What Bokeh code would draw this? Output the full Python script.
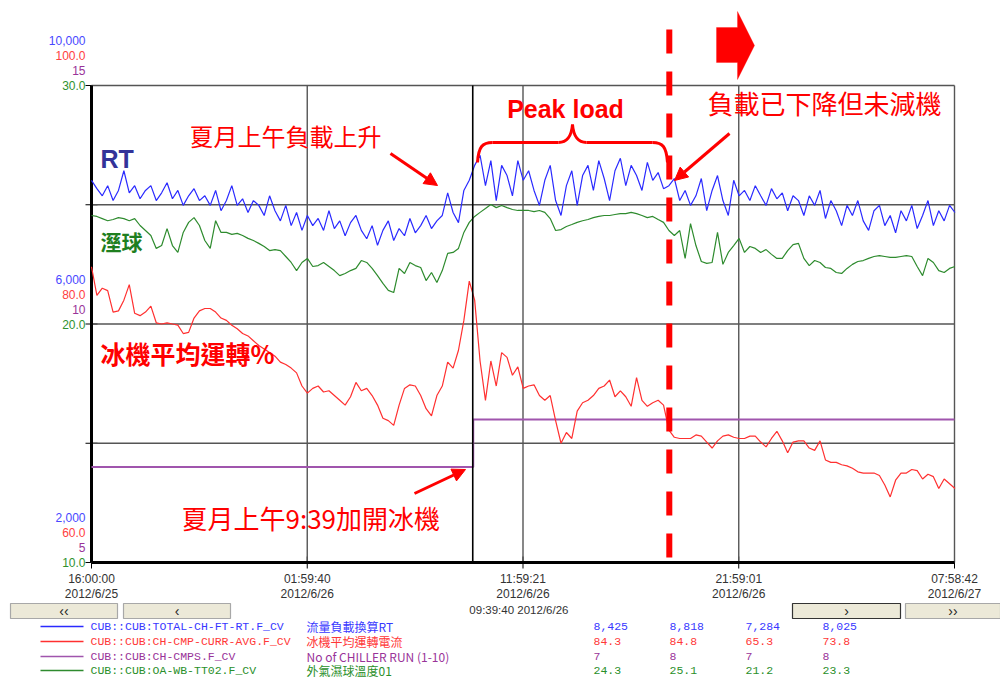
import math
import pandas as pd
from bokeh.plotting import figure
from bokeh.models import Range1d, Label, Arrow, NormalHead, PolyAnnotation
from bokeh.layouts import column
from bokeh.embed import file_html
from bokeh.resources import INLINE
from bokeh.core.properties import value

# ---------------- data ----------------
start_time = "2012-06-25 16:00:00"
end_time = "2012-06-27 07:58:42"
sample_freq = "15min"

# TOTAL-CH-FT-RT (RT)
rt = [8410, 8270, 8150, 8320, 8070, 8240, 8570, 8200, 8320, 8100, 8240,
      8320, 8070, 8200, 8370, 8100, 8240, 7990, 8150, 8270, 8070,
      8150, 7990, 8240, 7900, 8070, 8320, 7990, 8100, 7870, 8070,
      7990, 7820, 8150, 7900, 7730, 7990, 7650, 7870, 7570, 7820,
      7650, 7770, 7570, 7900, 7600, 7730, 7480, 7700, 7820, 7570,
      7430, 7650, 7320, 7570, 7730, 7400, 7600, 7480, 7770, 7530,
      7650, 7820, 7600, 7730, 7820, 8200, 7870, 7700, 8240, 8410,
      8660, 8830, 8320, 8740, 8070, 8660, 8490, 8150, 8740, 8410,
      8570, 8240, 7990, 8410, 8660, 8070, 7820, 8320, 8570, 7990,
      8490, 8660, 8240, 8740, 8440, 8070, 8570, 8780, 8320, 8660,
      8490, 8240, 8710, 8410, 8540, 8270, 8320, 8440, 8070, 8240,
      7990, 8150, 8440, 7900, 8240, 8490, 8070, 7820, 8410, 8150,
      8240, 8070, 8320, 8150, 7990, 8270, 8100, 8200, 7900, 8150,
      8070, 7820, 8150, 7990, 8240, 7770, 8070, 7900, 7650, 7990,
      7820, 8070, 7730, 7570, 7900, 7990, 7650, 7820, 7530, 7900,
      7730, 7990, 7600, 7820, 8070, 7650, 7900, 7730, 7990, 7870]

# CH-CMP-CURR-AVG (%)
amp = [84.8, 82.4, 83.0, 82.8, 81.0, 81.1, 82.0, 83.3, 80.9, 80.7, 81.0,
       81.5, 80.1, 80.0, 80.1, 80.0, 79.9, 79.2, 79.3, 80.5, 81.1,
       81.3, 81.3, 81.0, 80.5, 80.3, 79.9, 79.6, 79.2, 79.0, 78.6,
       78.2, 77.9, 77.6, 77.3, 76.8, 76.6, 76.3, 75.9, 74.8, 74.2,
       74.6, 74.8, 74.3, 74.4, 74.0, 73.6, 73.2, 73.9, 75.1, 74.4,
       74.6, 74.0, 73.2, 72.1, 71.9, 71.5, 73.2, 74.6, 74.9, 74.8,
       74.0, 72.9, 72.3, 74.0, 74.8, 76.8, 76.3, 77.8, 80.3, 83.6,
       82.0, 76.9, 73.6, 76.9, 74.8, 77.6, 77.2, 75.7, 76.4, 74.6,
       74.8, 74.9, 74.0, 73.6, 74.0, 71.9, 70.0, 70.9, 70.4, 72.7,
       73.4, 73.6, 74.0, 74.6, 74.8, 75.3, 73.9, 74.4, 73.9, 73.1,
       75.5, 73.6, 73.1, 73.4, 73.6, 73.2, 71.1, 70.5, 70.4, 70.4,
       70.4, 70.7, 70.6, 70.1, 69.6, 70.2, 70.6, 70.7, 70.5, 70.4,
       70.4, 70.6, 70.6, 70.1, 69.7, 70.4, 71.0, 70.2, 69.2, 70.1,
       70.2, 70.2, 69.6, 69.4, 70.2, 68.6, 68.4, 68.4, 68.2, 68.1,
       67.9, 67.6, 67.5, 67.5, 67.5, 67.3, 66.5, 65.5, 66.9, 67.5,
       67.5, 67.8, 67.7, 67.0, 67.4, 67.2, 66.2, 67.0, 66.6, 66.2]

# OA-WB-TT02 (wet bulb, degC)
wb = [24.55, 24.51, 24.42, 24.33, 24.38, 24.46, 24.42, 24.33, 24.42, 24.13, 23.92,
      23.71, 23.17, 23.29, 24.00, 23.29, 23.00, 23.84, 24.26, 24.46, 24.13,
      23.50, 23.17, 24.33, 23.84, 23.84, 23.76, 23.80, 23.71, 23.59, 23.50,
      23.38, 23.25, 23.08, 23.12, 23.08, 22.83, 22.58, 22.24, 22.58, 22.75,
      22.41, 22.45, 22.58, 22.41, 22.24, 22.03, 22.12, 22.24, 22.33, 22.66,
      22.58, 22.33, 22.03, 21.70, 21.41, 21.32, 22.33, 22.12, 22.58, 22.45,
      22.37, 21.82, 22.16, 21.74, 22.24, 22.96, 23.00, 23.17, 23.84, 24.26,
      24.51, 24.68, 24.84, 25.01, 24.88, 24.97, 24.88, 24.80, 24.76, 24.76,
      24.76, 24.71, 24.76, 24.68, 24.42, 23.92, 23.96, 24.09, 24.17, 24.26,
      24.33, 24.38, 24.46, 24.51, 24.55, 24.55, 24.59, 24.63, 24.63, 24.68,
      24.63, 24.55, 24.46, 24.51, 24.38, 24.26, 23.92, 23.71, 23.92, 22.75,
      24.21, 23.29, 22.62, 22.54, 22.58, 23.84, 22.50, 23.00, 23.29, 23.59,
      23.00, 23.25, 23.17, 23.00, 23.12, 22.92, 22.75, 22.75, 23.08, 23.33,
      23.38, 22.75, 22.45, 22.66, 22.58, 22.37, 22.33, 22.16, 22.12, 22.33,
      22.50, 22.62, 22.66, 22.75, 22.83, 22.87, 22.83, 22.79, 22.79, 22.83,
      22.87, 22.83, 22.41, 22.03, 22.75, 22.58, 22.24, 22.16, 22.33, 22.41]

# CH-CMPS (number of chillers running)
chiller_times = ["2012-06-25 16:00:00", "2012-06-26 09:41:00", "2012-06-27 07:58:42"]
chiller_runs = [7, 8, 8]

cursor_time = "2012-06-26 09:39:40"
decision_time = "2012-06-26 18:46:00"

x_tick_times = ["2012-06-25 16:00:00", "2012-06-26 01:59:40", "2012-06-26 11:59:21",
                "2012-06-26 21:59:01", "2012-06-27 07:58:42"]
x_tick_clock = ["16:00:00", "01:59:40", "11:59:21", "21:59:01", "07:58:42"]
x_tick_dates = ["2012/6/25", "2012/6/26", "2012/6/26", "2012/6/26", "2012/6/27"]

rt_ticks, rt_tick_labels = [2000, 6000, 10000], ["2,000", "6,000", "10,000"]
amp_ticks, amp_tick_labels = [60, 80, 100], ["60.0", "80.0", "100.0"]
cnt_ticks, cnt_tick_labels = [5, 10, 15], ["5", "10", "15"]
wb_ticks, wb_tick_labels = [10, 20, 30], ["10.0", "20.0", "30.0"]
grid_ticks = [10, 15, 20, 25, 30]

legend_tags = ["CUB::CUB:TOTAL-CH-FT-RT.F_CV", "CUB::CUB:CH-CMP-CURR-AVG.F_CV",
               "CUB::CUB:CH-CMPS.F_CV", "CUB::CUB:OA-WB-TT02.F_CV"]
legend_desc = ["流量負載換算RT", "冰機平均運轉電流", "No of CHILLER RUN (1-10)", "外氣濕球溫度01"]
cursor_values = [["8,425", "8,818", "7,284", "8,025"],
                 ["84.3", "84.8", "65.3", "73.8"],
                 ["7", "8", "7", "8"],
                 ["24.3", "25.1", "21.2", "23.3"]]
cursor_label = "09:39:40  2012/6/26"

# ---------------- styles / layout ----------------
C_BLUE, C_RED, C_PURPLE, C_GREEN = "#2a2aff", "#ff3030", "#a055ad", "#2e8b2e"
T_BLUE, T_RED, T_PURPLE, T_GREEN = "#4848ff", "#ff4040", "#993399", "#2f922f"
ANN = "#ff0000"
GRID = "#555555"

W, H_TOP, H_BOT = 1000, 602, 78
BOX_L, BOX_R, BOX_T, BOX_B = 91, 954, 85, 562   # plot box in page pixels


def ms(s):
    return pd.Timestamp(s).value // 10**6


t0, t1 = ms(start_time), ms(end_time)


def x_fit(lo, hi):
    k = (hi - lo) / (BOX_R - BOX_L)
    return Range1d(lo - BOX_L * k, hi + (W - BOX_R) * k)


def y_fit(lo, hi):
    k = (hi - lo) / (BOX_B - BOX_T)
    return Range1d(lo - (H_TOP - BOX_B) * k, hi + BOX_T * k)


p = figure(width=W, height=H_TOP, x_range=x_fit(t0, t1), y_range=y_fit(10, 30),
           x_axis_type=None, y_axis_type=None, output_backend="svg", toolbar_location=None,
           min_border=0)
p.extra_y_ranges = {"rt": y_fit(2000, 10000), "amp": y_fit(60, 100), "cnt": y_fit(5, 15)}
p.outline_line_color = None
p.background_fill_color = "white"
p.border_fill_color = "white"
p.grid.visible = False

x_ticks_ms = [ms(t) for t in x_tick_times]

# tick marks (drawn first; inner halves are hidden by the grid lines)
p.scatter(x=[t0] * len(grid_ticks), y=grid_ticks, marker="dash", size=12,
          line_color="black", line_width=1)
p.scatter(x=x_ticks_ms, y=[10] * len(x_ticks_ms), marker="dash", angle=math.pi / 2, size=12,
          line_color="black", line_width=1)

# grid lines
p.segment(x0=[t0] * len(grid_ticks), x1=[t1] * len(grid_ticks), y0=grid_ticks, y1=grid_ticks,
          line_color=GRID, line_width=1.4)
p.segment(x0=x_ticks_ms, x1=x_ticks_ms, y0=[10] * len(x_ticks_ms), y1=[30] * len(x_ticks_ms),
          line_color=GRID, line_width=1.4)
# heavy axis lines (left and bottom)
p.segment(x0=[t0, t0], y0=[10, 10], x1=[t0, t1], y1=[30, 10], line_color="black", line_width=3)

# tick labels
p.text(x=x_ticks_ms, y=[10] * len(x_ticks_ms), text=x_tick_clock, y_offset=16,
       text_align="center", text_baseline="middle", text_font=value("Liberation Sans"),
       text_font_size="12px", text_color="#333333")
p.text(x=x_ticks_ms, y=[10] * len(x_ticks_ms), text=x_tick_dates, y_offset=31,
       text_align="center", text_baseline="middle", text_font=value("Liberation Sans"),
       text_font_size="12px", text_color="#333333")
for ticks, labels, rname, color, off in [
        (wb_ticks, wb_tick_labels, "default", T_GREEN, 0),
        (cnt_ticks, cnt_tick_labels, "cnt", T_PURPLE, 15),
        (amp_ticks, amp_tick_labels, "amp", T_RED, 30),
        (rt_ticks, rt_tick_labels, "rt", T_BLUE, 45)]:
    p.text(x=[t0] * len(ticks), y=ticks, text=labels, y_range_name=rname,
           x_offset=-6, y_offset=-off, text_align="right", text_baseline="middle",
           text_font=value("Liberation Sans"), text_font_size="12px", text_color=color)

# series
p.step(pd.to_datetime(chiller_times), chiller_runs, mode="after", y_range_name="cnt",
       line_color=C_PURPLE, line_width=2)
p.line(pd.date_range(start_time, periods=len(amp), freq=sample_freq), amp, y_range_name="amp",
       line_color=C_RED, line_width=1.2)
p.line(pd.date_range(start_time, periods=len(wb), freq=sample_freq), wb,
       line_color=C_GREEN, line_width=1.2)
p.line(pd.date_range(start_time, periods=len(rt), freq=sample_freq), rt, y_range_name="rt",
       line_color=C_BLUE, line_width=1.2)

# cursor line
p.segment(x0=[ms(cursor_time)], x1=[ms(cursor_time)], y0=[10], y1=[30],
          line_color="black", line_width=1.6)


# ---- annotation helpers: page pixel -> primary data coordinates (layout only) ----
def ax(px):
    return t0 + (px - BOX_L) / (BOX_R - BOX_L) * (t1 - t0)


def ay(py):
    return 10 + (BOX_B - py) / (BOX_B - BOX_T) * 20


# dashed decision line (extends above the plot box)
p.add_layout(Arrow(end=None, x_start=ms(decision_time), y_start=ay(29),
                   x_end=ms(decision_time), y_end=10,
                   line_color=ANN, line_width=6, line_dash="24 18"))

# big block arrow
arrow_px = [(716, 27), (737, 27), (737, 11), (754, 45), (737, 79), (737, 62), (716, 62)]
p.add_layout(PolyAnnotation(xs=[ax(a) for a, b in arrow_px], ys=[ay(b) for a, b in arrow_px],
                            fill_color=ANN, fill_alpha=1, line_color=ANN, line_width=1))

# pointer arrows
for (xa, ya), (xb, yb) in [((390, 153), (437, 185)), ((729, 133), (674, 180)), ((414, 493), (465, 469))]:
    p.add_layout(Arrow(end=NormalHead(size=13, fill_color=ANN, line_color=ANN),
                       x_start=ax(xa), y_start=ay(ya), x_end=ax(xb), y_end=ay(yb),
                       line_color=ANN, line_width=3))

# curly brace over the peak-load period
brace = [((477, 162), (478, 146), (482, 142), (492, 142)),
         ((492, 142), (520, 142), (540, 142), (558, 142)),
         ((558, 142), (566, 142), (571, 136), (572, 124)),
         ((572, 124), (573, 136), (578, 142), (586, 142)),
         ((586, 142), (610, 142), (630, 142), (652, 142)),
         ((652, 142), (662, 142), (666, 146), (667, 162))]
p.bezier(x0=[ax(s[0][0]) for s in brace], y0=[ay(s[0][1]) for s in brace],
         cx0=[ax(s[1][0]) for s in brace], cy0=[ay(s[1][1]) for s in brace],
         cx1=[ax(s[2][0]) for s in brace], cy1=[ay(s[2][1]) for s in brace],
         x1=[ax(s[3][0]) for s in brace], y1=[ay(s[3][1]) for s in brace],
         line_color=ANN, line_width=3)

texts = [("夏月上午負載上升", 189, 135, "Noto Sans CJK TC", "normal", "24px", ANN, "left"),
         ("Peak load", 565, 108, "Liberation Sans", "bold", "25px", ANN, "center"),
         ("負載已下降但未減機", 707, 102, "Noto Sans CJK TC", "normal", "26px", ANN, "left"),
         ("RT", 100, 158, "Liberation Sans", "bold", "25px", "#333399", "left"),
         ("溼球", 100, 240, "Noto Sans CJK TC", "bold", "21px", "#1f7f1f", "left"),
         ("冰機平均運轉%", 100, 352, "Noto Sans CJK TC", "bold", "25px", ANN, "left"),
         ("夏月上午9:39加開冰機", 181, 517, "Noto Sans CJK TC", "normal", "26px", ANN, "left")]
for txt, px, py, font, style, size, color, align in texts:
    p.add_layout(Label(x=ax(px), y=ay(py), text=txt, text_font=font, text_font_style=style,
                       text_font_size=size, text_color=color, text_align=align,
                       text_baseline="middle"))

# ---------------- bottom strip: navigation buttons + cursor legend ----------------
q = figure(width=W, height=H_BOT, x_range=Range1d(0, W), y_range=Range1d(H_TOP + H_BOT, H_TOP),
           x_axis_type=None, y_axis_type=None, output_backend="svg", toolbar_location=None,
           min_border=0)
q.outline_line_color = None
q.background_fill_color = "white"
q.border_fill_color = "white"
q.grid.visible = False

btn_left = [10, 123, 792, 905]
btn_right = [117, 230, 900, 1000]
btn_text = ["‹‹", "‹", "›", "››"]
btn_border = ["#a8a8a8", "#a8a8a8", "#333333", "#a8a8a8"]
q.quad(left=btn_left, right=btn_right, top=[603] * 4, bottom=[618] * 4,
       fill_color="#ece9d8", line_color=btn_border, line_width=1.2)
q.text(x=[(a + b) / 2 for a, b in zip(btn_left, btn_right)], y=[610.5] * 4, text=btn_text,
       text_align="center", text_baseline="middle", text_font=value("Liberation Sans"),
       text_font_size="14px", text_color="#222222")
q.text(x=[520], y=[609.5], text=[cursor_label], text_align="center", text_baseline="middle",
       text_font=value("Liberation Sans"), text_font_size="11.5px", text_color="#333333")

row_y = [626, 641, 656, 670]
line_colors = [C_BLUE, C_RED, C_PURPLE, C_GREEN]
text_colors = ["#3838ff", "#ff3838", "#993399", "#2a8f2a"]
q.segment(x0=[40] * 4, y0=row_y, x1=[83] * 4, y1=row_y, line_color=line_colors, line_width=1.6)
q.text(x=[90] * 4, y=row_y, text=legend_tags, text_color=text_colors, text_baseline="middle",
       text_font=value("Liberation Mono"), text_font_size="11.5px")
q.text(x=[306] * 4, y=row_y, text=legend_desc, text_color=text_colors, text_baseline="middle",
       text_font=value("Noto Sans CJK TC"), text_font_size="12px")
for k, colx in enumerate([593, 669, 745, 822]):
    q.text(x=[colx] * 4, y=row_y, text=[vals[k] for vals in cursor_values], text_color=text_colors,
           text_baseline="middle", text_font=value("Liberation Mono"), text_font_size="11.5px")

layout = column(p, q, spacing=0)
open("out.html", "w").write(file_html(layout, INLINE))
